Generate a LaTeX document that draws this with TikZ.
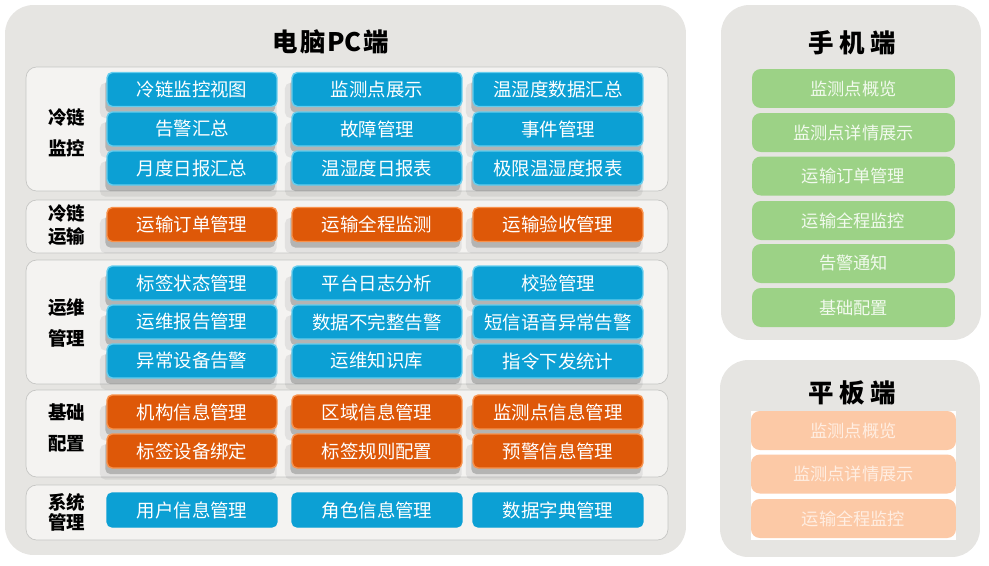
\documentclass[tikz,border=0pt]{standalone}
\usepackage{fontspec}
\setmainfont{Noto Sans CJK SC}
\usepackage{xcolor}
\usepackage{tikz}
\usetikzlibrary{positioning, shadows, backgrounds}
\definecolor{panelgray}{RGB}{230,229,226}
\definecolor{sectionfill}{RGB}{244,243,241}
\definecolor{sectionline}{RGB}{198,198,196}
\definecolor{btnblue}{RGB}{12,160,212}
\definecolor{btnblueedge}{RGB}{100,205,238}
\definecolor{btnorange}{RGB}{222,88,8}
\definecolor{btnorangeedge}{RGB}{248,145,75}
\definecolor{mobilegreen}{RGB}{156,210,134}
\definecolor{mobiletext}{RGB}{242,250,238}
\definecolor{tabletsalmon}{RGB}{252,201,166}
\definecolor{tablettext}{RGB}{255,238,226}

\begin{document}
\begin{tikzpicture}[
    x=0.02cm, y=-0.02cm,
    panel/.style={fill=panelgray, rounded corners=16pt, inner sep=0pt},
    section/.style={draw=sectionline, fill=sectionfill, rounded corners=6pt, minimum width=12.84cm, inner sep=0pt},
    seclabel/.style={font=\bfseries\fontsize{10.5}{17.6}\selectfont, align=center},
    title/.style={font=\bfseries\fontsize{14.5}{16}\selectfont},
    pcbtn/.style={rounded corners=3pt, minimum width=3.4cm, minimum height=0.68cm, inner sep=0pt, text=white, font=\fontsize{10.5}{12}\selectfont, line width=0.8pt},
    raised/.style={
        drop shadow={shadow xshift=-2pt, shadow yshift=-6pt, shadow scale=1.04, opacity=0.12, fill=black!60},
        drop shadow={shadow xshift=-1pt, shadow yshift=-3.5pt, opacity=0.3, fill=black!70}},
    bluebtn/.style={pcbtn, raised, fill=btnblue, draw=btnblueedge},
    orangebtn/.style={pcbtn, raised, fill=btnorange, draw=btnorangeedge},
    flatbtn/.style={pcbtn, fill=btnblue, draw=btnblue},
    mobilebtn/.style={fill=mobilegreen, rounded corners=5pt, minimum width=4.06cm, minimum height=0.78cm, inner sep=0pt, text=mobiletext, font=\fontsize{9.8}{12}\selectfont},
    tabletbtn/.style={mobilebtn, fill=tabletsalmon, minimum width=4.1cm, text=tablettext}
]
    \useasboundingbox (0,0) rectangle (989,565);

    % Panels
    \node[panel, minimum width=13.62cm, minimum height=11cm] (pc) at (345.5,280) {};
    \node[panel, minimum width=5.2cm, minimum height=6.7cm] (mobile) at (851,172.5) {};
    \node[panel, minimum width=5.2cm, minimum height=3.94cm] (tablet) at (850,458.5) {};

    \node[title] (pctitle) at (331,42) {电\hspace{1pt}脑\hspace{1pt}PC\hspace{1pt}端};
    \node[title] (mobiletitle) at (852,43) {手\hspace{3pt}机\hspace{3pt}端};
    \node[title] (tablettitle) at (852,393) {平\hspace{3pt}板\hspace{3pt}端};

    % PC sections
    \node[section, minimum height=2.48cm] (secmon) at (347,129) {};
    \node[section, minimum height=1.06cm] (sectrans) at (347,226.5) {};
    \node[section, minimum height=2.48cm] (secops) at (347,322) {};
    \node[section, minimum height=1.74cm] (secbase) at (347,433.5) {};
    \node[section, minimum height=1.1cm] (secsys) at (347,512.5) {};

    \node[seclabel] (labmon) at (66.5,132.5) {冷链\\监控};
    \node[seclabel, font=\bfseries\fontsize{10.5}{13}\selectfont] (labtrans) at (66.5,225.5) {冷链\\运输};
    \node[seclabel, font=\bfseries\fontsize{10.5}{18}\selectfont] (labops) at (66.5,323) {运维\\管理};
    \node[seclabel] (labbase) at (66.5,427.5) {基础\\配置};
    \node[seclabel, font=\bfseries\fontsize{10.5}{11.5}\selectfont] (labsys) at (66.5,512) {系统\\管理};

    % Cold chain monitoring
    \node[bluebtn] (mon1) at (192,89.5) {冷链监控视图};
    \node[bluebtn] (mon2) at (377,89.5) {监测点展示};
    \node[bluebtn] (mon3) at (558,89.5) {温湿度数据汇总};
    \node[bluebtn] (mon4) at (192,129) {告警汇总};
    \node[bluebtn] (mon5) at (377,129) {故障管理};
    \node[bluebtn] (mon6) at (558,129) {事件管理};
    \node[bluebtn] (mon7) at (192,168) {月度日报汇总};
    \node[bluebtn] (mon8) at (377,168) {温湿度日报表};
    \node[bluebtn] (mon9) at (558,168) {极限温湿度报表};

    % Cold chain transport
    \node[orangebtn] (trans1) at (192,224.5) {运输订单管理};
    \node[orangebtn] (trans2) at (377,224.5) {运输全程监测};
    \node[orangebtn] (trans3) at (558,224.5) {运输验收管理};

    % Operations
    \node[bluebtn] (ops1) at (192,283) {标签状态管理};
    \node[bluebtn] (ops2) at (377,283) {平台日志分析};
    \node[bluebtn] (ops3) at (558,283) {校验管理};
    \node[bluebtn] (ops4) at (192,322) {运维报告管理};
    \node[bluebtn] (ops5) at (377,322) {数据不完整告警};
    \node[bluebtn] (ops6) at (558,322) {短信语音异常告警};
    \node[bluebtn] (ops7) at (192,361) {异常设备告警};
    \node[bluebtn] (ops8) at (377,361) {运维知识库};
    \node[bluebtn] (ops9) at (558,361) {指令下发统计};

    % Base configuration
    \node[orangebtn] (base1) at (192,412) {机构信息管理};
    \node[orangebtn] (base2) at (377,412) {区域信息管理};
    \node[orangebtn] (base3) at (558,412) {监测点信息管理};
    \node[orangebtn] (base4) at (192,451) {标签设备绑定};
    \node[orangebtn] (base5) at (377,451) {标签规则配置};
    \node[orangebtn] (base6) at (558,451) {预警信息管理};

    % System management
    \node[flatbtn] (sys1) at (192,510) {用户信息管理};
    \node[flatbtn] (sys2) at (377,510) {角色信息管理};
    \node[flatbtn] (sys3) at (558,510) {数据字典管理};

    % Mobile side
    \node[mobilebtn] (mob1) at (853.5,88.5) {监测点概览};
    \node[mobilebtn] (mob2) at (853.5,132.5) {监测点详情展示};
    \node[mobilebtn] (mob3) at (853.5,176) {运输订单管理};
    \node[mobilebtn] (mob4) at (853.5,220.5) {运输全程监控};
    \node[mobilebtn] (mob5) at (853.5,263.5) {告警通知};
    \node[mobilebtn] (mob6) at (853.5,307.5) {基础配置};

    % Tablet side
    \node[fill=white, minimum width=4.1cm, minimum height=2.58cm, inner sep=0pt] (tabletbg) at (853.5,475.5) {};
    \node[tabletbtn] (tab1) at (853.5,430.5) {监测点概览};
    \node[tabletbtn] (tab2) at (853.5,474) {监测点详情展示};
    \node[tabletbtn] (tab3) at (853.5,518.5) {运输全程监控};
\end{tikzpicture}
\end{document}
